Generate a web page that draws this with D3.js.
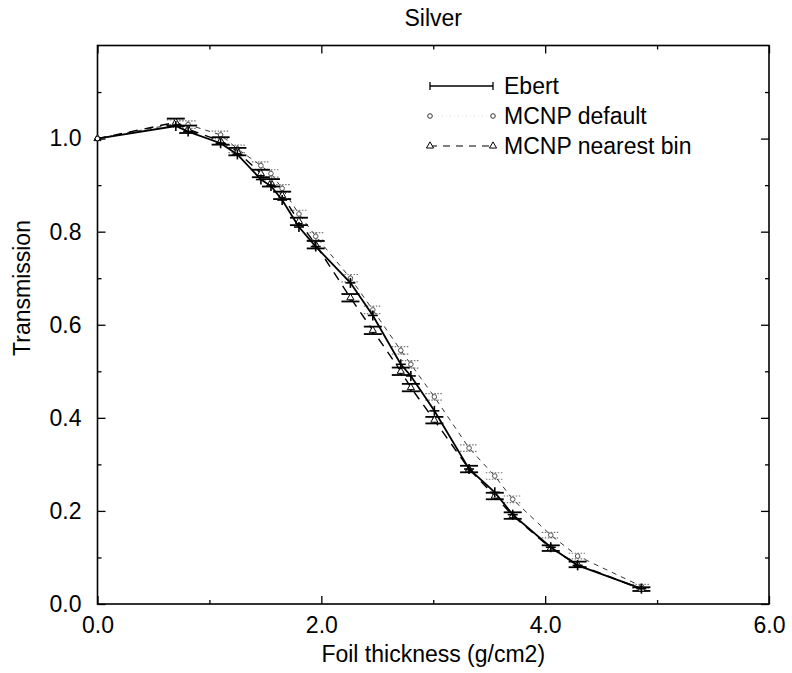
<!DOCTYPE html>
<html>
<head>
<meta charset="utf-8">
<script src="https://cdn.jsdelivr.net/npm/d3@7"></script>
<style>
  body { margin: 0; background: #fff; }
  text { font-family: "Liberation Sans", Arial, Helvetica, sans-serif; fill: #000; }
</style>
</head>
<body>
<div id="chart"></div>
<script>
const thickness = [0.00, 0.70, 0.81, 1.10, 1.25, 1.46, 1.55, 1.65, 1.80, 1.95, 2.26,
  2.46, 2.71, 2.80, 3.01, 3.32, 3.55, 3.71, 4.05, 4.29, 4.86];
const ebert = [1.000, 1.027, 1.015, 0.990, 0.966, 0.912, 0.898, 0.868, 0.810, 0.768, 0.690,
  0.620, 0.515, 0.490, 0.415, 0.290, 0.240, 0.192, 0.122, 0.083, 0.033];
const mcnpDefault = [1.000, 1.032, 1.030, 1.008, 0.978, 0.942, 0.925, 0.893, 0.838, 0.790, 0.700,
  0.632, 0.545, 0.515, 0.445, 0.335, 0.275, 0.225, 0.148, 0.103, 0.038];
const defaultErr = [0, 0.008, 0.008, 0.008, 0.008, 0.008, 0.008, 0.008, 0.008, 0.008, 0.008,
  0.008, 0.008, 0.008, 0.007, 0.007, 0.007, 0.007, 0.006, 0.006, 0.004];
const mcnpNearest = [1.000, 1.035, 1.020, 0.995, 0.972, 0.925, 0.905, 0.878, 0.822, 0.772, 0.658,
  0.588, 0.500, 0.465, 0.395, 0.290, 0.232, 0.190, 0.120, 0.085, 0.032];
const nearestErr = [0, 0.008, 0.008, 0.008, 0.008, 0.008, 0.008, 0.008, 0.008, 0.008, 0.008,
  0.008, 0.008, 0.008, 0.007, 0.007, 0.007, 0.007, 0.006, 0.006, 0.004];
const xMajor = [0, 2, 4, 6];
const xMinor = [1, 3, 5];
const yMajor = [0, 0.2, 0.4, 0.6, 0.8, 1.0];
const yMinor = [0.1, 0.3, 0.5, 0.7, 0.9, 1.1];
const legendNames = ["Ebert", "MCNP default", "MCNP nearest bin"];

const width = 792, height = 673;
const FONT = 23;

const x = d3.scaleLinear().domain([0, 6]).range([97.5, 769]);
const y = d3.scaleLinear().domain([0, 1.2]).range([604, 45.5]);

const svg = d3.select("#chart").append("svg")
  .attr("width", width).attr("height", height)
  .attr("viewBox", `0 0 ${width} ${height}`);

// axes with inward ticks, mirrored on top and right
function styleAxis(g) {
  g.select(".domain").remove();
  g.selectAll(".tick line").attr("stroke", "#000").attr("stroke-width", 1.3);
  g.selectAll("text").attr("font-size", FONT).attr("font-family", null).attr("fill", "#000");
}
svg.append("g").attr("transform", `translate(0,${y(0)})`)
  .call(d3.axisBottom(x).tickValues(xMajor).tickSize(-8).tickPadding(13).tickFormat(d3.format(".1f")))
  .call(styleAxis);
svg.append("g").attr("transform", `translate(0,${y(0)})`)
  .call(d3.axisBottom(x).tickValues(xMinor).tickSize(-4).tickFormat(""))
  .call(styleAxis);
svg.append("g").attr("transform", `translate(0,${y(1.2)})`)
  .call(d3.axisTop(x).tickValues(xMajor).tickSize(-8).tickFormat(""))
  .call(styleAxis);
svg.append("g").attr("transform", `translate(0,${y(1.2)})`)
  .call(d3.axisTop(x).tickValues(xMinor).tickSize(-4).tickFormat(""))
  .call(styleAxis);
svg.append("g").attr("transform", `translate(${x(0)},0)`)
  .call(d3.axisLeft(y).tickValues(yMajor).tickSize(-8).tickPadding(16).tickFormat(d3.format(".1f")))
  .call(styleAxis);
svg.append("g").attr("transform", `translate(${x(0)},0)`)
  .call(d3.axisLeft(y).tickValues(yMinor).tickSize(-4).tickFormat(""))
  .call(styleAxis);
svg.append("g").attr("transform", `translate(${x(6)},0)`)
  .call(d3.axisRight(y).tickValues(yMajor).tickSize(-8).tickFormat(""))
  .call(styleAxis);
svg.append("g").attr("transform", `translate(${x(6)},0)`)
  .call(d3.axisRight(y).tickValues(yMinor).tickSize(-4).tickFormat(""))
  .call(styleAxis);

// frame
svg.append("rect")
  .attr("x", x(0)).attr("y", y(1.2))
  .attr("width", x(6) - x(0)).attr("height", y(0) - y(1.2))
  .attr("fill", "none").attr("stroke", "#000").attr("stroke-width", 1.6);

// titles
svg.append("text").attr("x", (x(0) + x(6)) / 2).attr("y", 26)
  .attr("text-anchor", "middle").attr("font-size", FONT).text("Silver");
svg.append("text").attr("x", (x(0) + x(6)) / 2).attr("y", 662)
  .attr("text-anchor", "middle").attr("font-size", FONT).text("Foil thickness (g/cm2)");
svg.append("text").attr("transform", "translate(30,288) rotate(-90)")
  .attr("text-anchor", "middle").attr("font-size", FONT).text("Transmission");

const line = d3.line().x(d => x(d[0])).y(d => y(d[1]));
const pts = vals => thickness.map((t, i) => [t, vals[i], i]);

const plot = svg.append("g");

// MCNP default: gray dotted error bars, dashed thin line, small circles
plot.append("path").datum(pts(mcnpDefault)).attr("d", line)
  .attr("fill", "none").attr("stroke", "#333").attr("stroke-width", 1)
  .attr("stroke-dasharray", "5,5");
const errDef = plot.append("g").selectAll("g").data(pts(mcnpDefault).slice(1)).join("g")
  .attr("stroke", "#777").attr("stroke-width", 1.2).attr("stroke-dasharray", "1.5,1.5");
errDef.append("line")
  .attr("x1", d => x(d[0])).attr("x2", d => x(d[0]))
  .attr("y1", d => y(d[1] - defaultErr[d[2]])).attr("y2", d => y(d[1] + defaultErr[d[2]]));
[-1, 1].forEach(s => errDef.append("line")
  .attr("x1", d => x(d[0]) - 9).attr("x2", d => x(d[0]) + 9)
  .attr("y1", d => y(d[1] + s * defaultErr[d[2]])).attr("y2", d => y(d[1] + s * defaultErr[d[2]])));
plot.append("g").selectAll("circle").data(pts(mcnpDefault)).join("circle")
  .attr("cx", d => x(d[0])).attr("cy", d => y(d[1])).attr("r", 2.3)
  .attr("fill", "#fff").attr("stroke", "#555").attr("stroke-width", 1);

// MCNP nearest bin: dashed line, black error bars, triangles
plot.append("path").datum(pts(mcnpNearest)).attr("d", line)
  .attr("fill", "none").attr("stroke", "#000").attr("stroke-width", 1.4)
  .attr("stroke-dasharray", "9,7");
const errNear = plot.append("g").selectAll("g").data(pts(mcnpNearest).slice(1)).join("g")
  .attr("stroke", "#000").attr("stroke-width", 1.8);
errNear.append("line")
  .attr("x1", d => x(d[0])).attr("x2", d => x(d[0]))
  .attr("y1", d => y(d[1] - nearestErr[d[2]])).attr("y2", d => y(d[1] + nearestErr[d[2]]));
[-1, 1].forEach(s => errNear.append("line")
  .attr("x1", d => x(d[0]) - 9).attr("x2", d => x(d[0]) + 9)
  .attr("y1", d => y(d[1] + s * nearestErr[d[2]])).attr("y2", d => y(d[1] + s * nearestErr[d[2]])));
const tri = d3.symbol().type(d3.symbolTriangle).size(22);
plot.append("g").selectAll("path").data(pts(mcnpNearest)).join("path")
  .attr("d", tri).attr("transform", d => `translate(${x(d[0])},${y(d[1])})`)
  .attr("fill", "#fff").attr("stroke", "#000").attr("stroke-width", 1);

// Ebert: solid line with plus markers
plot.append("path").datum(pts(ebert)).attr("d", line)
  .attr("fill", "none").attr("stroke", "#000").attr("stroke-width", 1.8);
const plus = d3.symbol().type(d3.symbolCross).size(0);
plot.append("g").selectAll("g").data(pts(ebert).slice(1)).join("g")
  .attr("transform", d => `translate(${x(d[0])},${y(d[1])})`)
  .each(function () {
    const g = d3.select(this);
    g.append("line").attr("x1", -5).attr("x2", 5).attr("stroke", "#000").attr("stroke-width", 1.6);
    g.append("line").attr("y1", -5).attr("y2", 5).attr("stroke", "#000").attr("stroke-width", 1.6);
  });
plot.append("circle").attr("cx", x(0)).attr("cy", y(ebert[0])).attr("r", 2.3)
  .attr("fill", "#fff").attr("stroke", "#000");

// legend
const legY = [86, 116, 146];
const lx1 = 430, lx2 = 493;
const leg = svg.append("g");
leg.append("line").attr("x1", lx1).attr("x2", lx2).attr("y1", legY[0]).attr("y2", legY[0])
  .attr("stroke", "#000").attr("stroke-width", 1.5);
[lx1, lx2].forEach(px => leg.append("line").attr("x1", px).attr("x2", px)
  .attr("y1", legY[0] - 4).attr("y2", legY[0] + 4).attr("stroke", "#000").attr("stroke-width", 1.3));
leg.append("line").attr("x1", lx1).attr("x2", lx2).attr("y1", legY[1]).attr("y2", legY[1])
  .attr("stroke", "#ccc").attr("stroke-width", 0.6).attr("stroke-dasharray", "1,3");
[lx1, lx2].forEach(px => leg.append("circle").attr("cx", px).attr("cy", legY[1]).attr("r", 2.3)
  .attr("fill", "#fff").attr("stroke", "#333"));
leg.append("line").attr("x1", lx1).attr("x2", lx2).attr("y1", legY[2]).attr("y2", legY[2])
  .attr("stroke", "#000").attr("stroke-width", 1.2).attr("stroke-dasharray", "7,6");
[lx1, lx2].forEach(px => leg.append("path").attr("d", tri)
  .attr("transform", `translate(${px},${legY[2]})`)
  .attr("fill", "#fff").attr("stroke", "#000"));
legendNames.forEach((name, i) => leg.append("text")
  .attr("x", 504).attr("y", legY[i] + 8).attr("font-size", FONT).text(name));
</script>
</body>
</html>
